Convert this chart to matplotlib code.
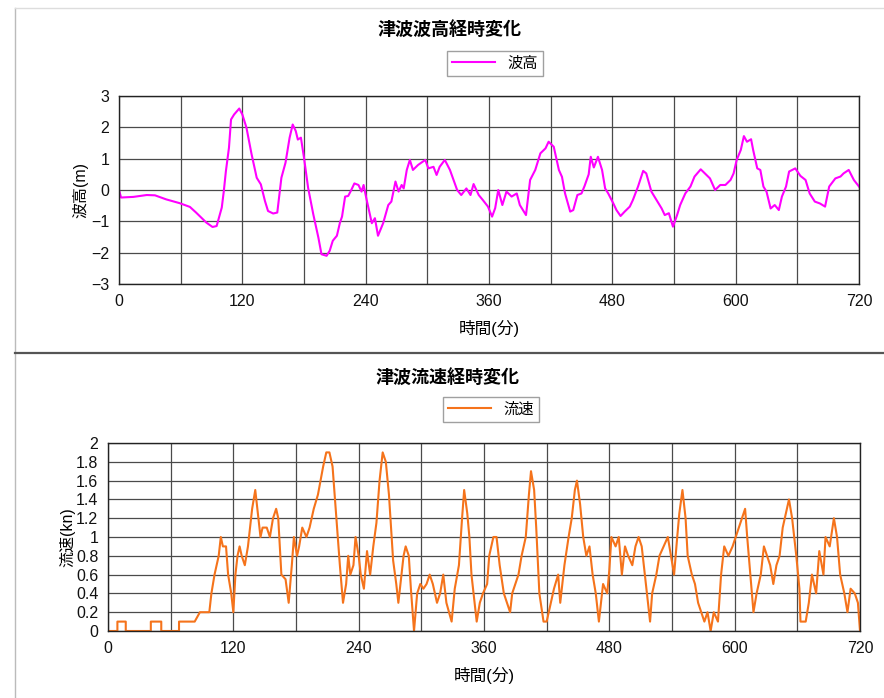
import matplotlib
matplotlib.use('Agg')
import matplotlib.pyplot as plt
from matplotlib.lines import Line2D

plt.rcParams['font.family'] = ['Liberation Sans', 'Noto Sans CJK JP']

# 波高 (m) 経時変化
wave_t = [0, 2, 14, 27, 35, 46, 59, 69, 75, 85, 91, 95, 100, 102, 104, 107, 109, 112, 117, 120,
          124, 129, 134, 138, 142, 145, 150, 154, 158, 162, 166, 169, 172, 174, 177, 180, 184, 189,
          194, 197, 202, 205, 208, 212, 215, 217, 220, 223, 226, 229, 233, 236, 238, 241, 246, 249,
          252, 257, 262, 265, 269, 272, 275, 277, 280, 283, 286, 291, 298, 301, 306, 309, 312, 317,
          322, 329, 333, 338, 342, 345, 350, 354, 359, 363, 366, 369, 373, 377, 382, 387, 390, 396,
          400, 405, 410, 415, 418, 423, 428, 431, 434, 439, 442, 446, 450, 453, 457, 459, 462, 466,
          470, 473, 476, 481, 484, 488, 492, 497, 500, 505, 510, 513, 518, 523, 528, 531, 535, 539,
          543, 546, 551, 556, 560, 566, 570, 575, 580, 585, 590, 595, 598, 601, 605, 608, 611, 615,
          617, 621, 624, 627, 630, 634, 638, 642, 645, 649, 652, 658, 663, 668, 672, 677, 682, 687,
          691, 697, 702, 705, 710, 715, 720]
wave_h = [0.0, -0.24, -0.22, -0.16, -0.17, -0.30, -0.42, -0.54, -0.72, -1.04, -1.18, -1.15, -0.56,
          -0.03, 0.60, 1.35, 2.25, 2.41, 2.60, 2.41, 1.99, 1.14, 0.39, 0.18, -0.35, -0.67, -0.75,
          -0.72, 0.39, 0.87, 1.67, 2.09, 1.88, 1.61, 1.67, 1.03, 0.07, -0.77, -1.52, -2.05, -2.10,
          -1.94, -1.62, -1.46, -1.04, -0.85, -0.21, -0.19, 0.00, 0.21, 0.16, -0.05, 0.16, -0.32,
          -1.06, -0.90, -1.46, -1.06, -0.48, -0.37, 0.27, -0.05, 0.16, 0.05, 0.64, 0.96, 0.64, 0.80,
          0.96, 0.69, 0.74, 0.48, 0.74, 0.96, 0.64, 0.00, -0.16, 0.05, -0.16, 0.19, -0.16, -0.32,
          -0.53, -0.85, -0.58, 0.00, -0.48, -0.05, -0.21, -0.11, -0.48, -0.80, 0.32, 0.64, 1.17,
          1.33, 1.54, 1.38, 0.64, 0.42, -0.11, -0.69, -0.64, -0.16, -0.11, 0.13, 0.50, 1.06, 0.72,
          1.06, 0.64, 0.05, -0.11, -0.43, -0.64, -0.83, -0.69, -0.53, -0.32, 0.11, 0.61, 0.53,
          -0.05, -0.32, -0.59, -0.80, -0.74, -1.17, -0.80, -0.48, -0.11, 0.11, 0.43, 0.66, 0.53,
          0.37, 0.00, 0.16, 0.16, 0.32, 0.53, 0.96, 1.28, 1.72, 1.54, 1.62, 1.28, 0.69, 0.64, 0.11,
          -0.05, -0.59, -0.48, -0.64, -0.21, 0.11, 0.59, 0.69, 0.45, 0.32, -0.11, -0.37, -0.43,
          -0.53, 0.11, 0.37, 0.43, 0.53, 0.64, 0.32, 0.11]

# 流速 (kn) 経時変化
flow_t = [0, 9, 9, 17, 17, 41, 41, 51, 51, 68, 68, 83, 88, 97, 99, 102, 106, 108, 110, 113, 115,
          118, 120, 122, 124, 126, 128, 131, 134, 138, 141, 143, 146, 148, 152, 155, 158, 161, 163,
          166, 170, 173, 176, 178, 181, 183, 186, 190, 193, 197, 201, 206, 209, 212, 215, 218, 222,
          225, 228, 230, 232, 235, 237, 240, 242, 245, 248, 251, 254, 257, 260, 263, 266, 269, 273,
          276, 278, 280, 283, 285, 288, 290, 293, 296, 299, 302, 305, 308, 311, 315, 318, 321, 324,
          329, 332, 336, 339, 341, 344, 346, 348, 353, 356, 359, 363, 365, 369, 372, 375, 379, 382,
          385, 387, 390, 393, 396, 400, 403, 405, 408, 410, 413, 417, 420, 424, 427, 431, 433, 437,
          441, 444, 447, 449, 452, 455, 458, 461, 464, 467, 470, 472, 474, 478, 480, 482, 486, 489,
          492, 495, 498, 502, 505, 508, 511, 514, 519, 521, 525, 528, 532, 536, 539, 542, 545, 547,
          550, 553, 555, 559, 562, 565, 568, 571, 574, 577, 580, 584, 587, 590, 594, 598, 601, 604,
          607, 610, 612, 615, 618, 621, 625, 628, 631, 634, 637, 640, 643, 646, 649, 652, 655, 659,
          662, 663, 668, 671, 674, 678, 681, 685, 687, 691, 695, 698, 701, 705, 708, 711, 715, 718,
          720]
flow_v = [0, 0, 0.1, 0.1, 0, 0, 0.1, 0.1, 0, 0, 0.1, 0.1, 0.2, 0.2, 0.4, 0.6, 0.8, 1.0, 0.9, 0.9,
          0.6, 0.4, 0.2, 0.6, 0.8, 0.9, 0.8, 0.7, 0.9, 1.3, 1.5, 1.3, 1.0, 1.1, 1.1, 1.0, 1.2, 1.3,
          1.2, 0.6, 0.55, 0.3, 0.7, 1.0, 0.8, 0.9, 1.1, 1.0, 1.1, 1.3, 1.45, 1.75, 1.9, 1.9, 1.75,
          1.3, 0.7, 0.3, 0.5, 0.8, 0.6, 0.7, 1.0, 0.8, 0.6, 0.45, 0.85, 0.6, 0.9, 1.15, 1.6, 1.9,
          1.8, 1.45, 0.75, 0.5, 0.3, 0.5, 0.8, 0.9, 0.8, 0.45, 0.0, 0.4, 0.5, 0.45, 0.5, 0.6, 0.5,
          0.3, 0.4, 0.6, 0.3, 0.1, 0.45, 0.7, 1.2, 1.5, 1.25, 1.0, 0.6, 0.1, 0.3, 0.4, 0.5, 0.8,
          1.0, 1.0, 0.7, 0.4, 0.3, 0.2, 0.4, 0.5, 0.6, 0.8, 1.0, 1.45, 1.7, 1.5, 1.1, 0.4, 0.1, 0.1,
          0.3, 0.45, 0.6, 0.3, 0.7, 1.0, 1.2, 1.5, 1.6, 1.35, 1.0, 0.8, 0.9, 0.6, 0.4, 0.1, 0.3,
          0.5, 0.4, 0.65, 1.0, 0.9, 1.0, 0.6, 0.9, 0.8, 0.7, 0.9, 1.0, 0.9, 0.6, 0.1, 0.4, 0.6,
          0.8, 0.9, 1.0, 0.8, 0.6, 1.0, 1.25, 1.5, 1.2, 0.8, 0.6, 0.5, 0.3, 0.2, 0.1, 0.2, 0.0,
          0.2, 0.1, 0.6, 0.9, 0.8, 0.9, 1.0, 1.1, 1.2, 1.3, 1.0, 0.6, 0.2, 0.4, 0.6, 0.9, 0.8, 0.7,
          0.5, 0.7, 0.8, 1.1, 1.25, 1.4, 1.2, 0.8, 0.45, 0.1, 0.1, 0.3, 0.6, 0.4, 0.85, 0.6, 1.0,
          0.9, 1.2, 1.0, 0.6, 0.4, 0.2, 0.45, 0.4, 0.3, 0.0]

x_ticks = [0, 120, 240, 360, 480, 600, 720]
wave_ticks = [-3, -2, -1, 0, 1, 2, 3]
flow_ticks = [0, 0.2, 0.4, 0.6, 0.8, 1, 1.2, 1.4, 1.6, 1.8, 2]

W, H = 884, 698
fig = plt.figure(figsize=(W / 100, H / 100), dpi=100)


def px_box(left, top, right, bottom):
    return [left / W, 1 - bottom / H, (right - left) / W, (bottom - top) / H]


def style_axes(ax, yticks):
    ax.set_xlim(0, 720)
    ax.set_xticks(x_ticks)
    ax.set_xticks(range(0, 721, 60), minor=True)
    ax.set_yticks(yticks)
    ax.set_ylim(yticks[0], yticks[-1])
    ax.grid(which='both', axis='x', color='#4a4a4a', lw=0.9)
    ax.grid(which='major', axis='y', color='#4a4a4a', lw=0.9)
    ax.tick_params(which='both', length=0, labelsize=11.5, pad=7, labelcolor='#111111')
    for s in ax.spines.values():
        s.set_color('#222222')
        s.set_linewidth(1.0)
    ax.set_axisbelow(True)


# frame of the two panels
fig.add_artist(Line2D([15 / W, 15 / W], [0, 1 - 8 / H], color='#bbbbbb', lw=1))
fig.add_artist(Line2D([15 / W, 1], [1 - 8 / H, 1 - 8 / H], color='#dddddd', lw=1))
fig.add_artist(Line2D([15 / W, 1], [1 - 353 / H, 1 - 353 / H], color='#555555', lw=1.6))

# 上段: 波高
ax1 = fig.add_axes(px_box(119, 96, 859, 284))
ax1.plot(wave_t, wave_h, color='#ff00ff', lw=1.5, label='波高')
style_axes(ax1, wave_ticks)
ax1.set_ylabel('波高(m)', fontsize=11.5, labelpad=2)
ax1.set_xlabel('時間(分)', fontsize=12, labelpad=8)
fig.text(450 / W, 1 - 30 / H, '津波波高経時変化', ha='center', va='center', fontsize=13,
         fontweight='bold')
ax1.legend(loc='lower left', bbox_to_anchor=(447 / W, 1 - 76 / H), bbox_transform=fig.transFigure,
           borderaxespad=0, frameon=True, fancybox=False, edgecolor='#888888', fontsize=11,
           handlelength=2.8, borderpad=0.35)

# 下段: 流速
ax2 = fig.add_axes(px_box(108, 443, 860, 631))
ax2.plot(flow_t, flow_v, color='#f5731b', lw=1.5, label='流速')
style_axes(ax2, flow_ticks)
ax2.set_yticklabels(['0', '0.2', '0.4', '0.6', '0.8', '1', '1.2', '1.4', '1.6', '1.8', '2'])
ax2.set_ylabel('流速(kn)', fontsize=11.5, labelpad=0)
ax2.set_xlabel('時間(分)', fontsize=12, labelpad=8)
fig.text(448 / W, 1 - 378 / H, '津波流速経時変化', ha='center', va='center', fontsize=13,
         fontweight='bold')
ax2.legend(loc='lower left', bbox_to_anchor=(443 / W, 1 - 422 / H), bbox_transform=fig.transFigure,
           borderaxespad=0, frameon=True, fancybox=False, edgecolor='#888888', fontsize=11,
           handlelength=2.8, borderpad=0.35)

fig.savefig('out.png', dpi=100)
